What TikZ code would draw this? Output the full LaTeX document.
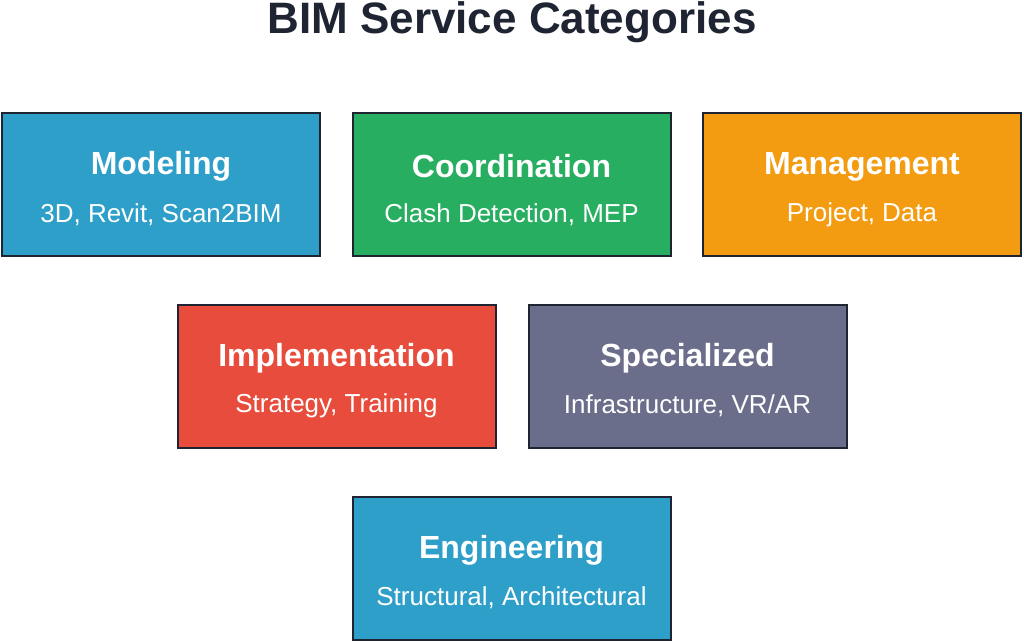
\documentclass[tikz,border=0pt]{standalone}
\usepackage{fontspec}
\setmainfont{Liberation Sans}
\definecolor{cblue}{HTML}{2E9FC9}
\definecolor{cgreen}{HTML}{27AE60}
\definecolor{corange}{HTML}{F39C12}
\definecolor{cred}{HTML}{E74C3C}
\definecolor{cgrey}{HTML}{6B6E8A}
\definecolor{cdark}{HTML}{1F2433}
\begin{document}
\begin{tikzpicture}[x=1pt,y=-1pt,
  cat/.style={draw=cdark,line width=2pt,minimum width=318pt,minimum height=143pt,inner sep=0pt},
  head/.style={text=white,font=\bfseries\fontsize{32}{36}\selectfont},
  sub/.style={text=white,font=\fontsize{26}{30}\selectfont}]
\useasboundingbox (0,0) rectangle (1024,641);
\node[text=cdark,font=\bfseries\fontsize{44}{50}\selectfont] (title) at (512,22) {BIM Service Categories};
\foreach \n/\x/\y/\c/\h/\s in {mod/161/184.5/cblue/Modeling/{3D, Revit, Scan2BIM},
  coo/511.5/184.5/cgreen/Coordination/{Clash Detection, MEP},
  man/862/184.5/corange/Management/{Project, Data},
  imp/336.5/376/cred/Implementation/{Strategy, Training},
  spe/687.5/376/cgrey/Specialized/{Infrastructure, VR/AR},
  eng/511.5/568/cblue/Engineering/{Structural, Architectural}}{
  \node[cat,fill=\c] (\n) at (\x,\y) {};
  \node[head] (\n h) at (\x,\y-18) {\h};
  \node[sub] (\n s) at (\x,\y+30) {\s};
}
\end{tikzpicture}
\end{document}
